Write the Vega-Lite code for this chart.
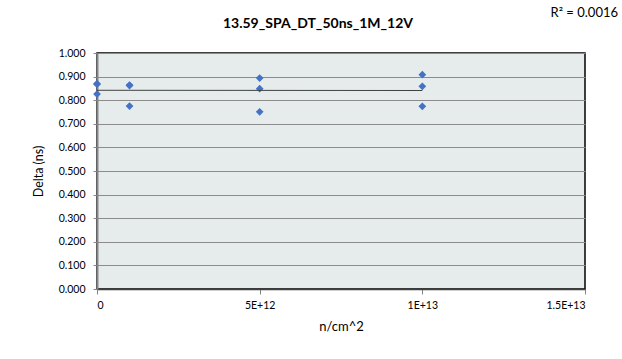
{
  "$schema": "https://vega.github.io/schema/vega-lite/v6.json",
  "width": 488,
  "height": 236,
  "autosize": {"type": "none"},
  "padding": {"left": 97, "top": 53, "right": 37, "bottom": 70},
  "background": "white",
  "config": {
    "view": {"fill": "#E6ECEC", "stroke": "#000000", "strokeWidth": 1.5},
    "font": "Lato"
  },
  "encoding": {
    "x": {
      "field": "fluence", "type": "quantitative",
      "scale": {"domain": [0, 1.5e13], "nice": false, "zero": true},
      "axis": {
        "values": [0, 5e12, 1e13, 1.5e13],
        "labelExpr": "datum.value == 0 ? '0' : datum.value == 5e12 ? '5E+12' : datum.value == 1e13 ? '1E+13' : '1.5E+13'",
        "title": "n/cm^2",
        "titleFont": "Lato", "titleFontSize": 13, "titleFontWeight": "normal", "titleColor": "#000000",
        "titlePadding": 10,
        "labelFont": "Lato", "labelFontSize": 10.5, "labelColor": "#000000", "labelPadding": 6,
        "labelOverlap": false,
        "grid": false,
        "domainColor": "#404040", "domainWidth": 1.5,
        "tickColor": "#868686", "tickSize": 5
      }
    },
    "y": {
      "field": "delta", "type": "quantitative",
      "scale": {"domain": [0, 1], "nice": false},
      "axis": {
        "values": [0, 0.1, 0.2, 0.3, 0.4, 0.5, 0.6, 0.7, 0.8, 0.9, 1.0],
        "labelOverlap": false,
        "format": ".3f",
        "title": "Delta (ns)",
        "titleFont": "Lato", "titleFontSize": 12.5, "titleFontWeight": "normal", "titleColor": "#000000",
        "titlePadding": 13,
        "labelFont": "Lato", "labelFontSize": 10.5, "labelColor": "#000000", "labelPadding": 8,
        "grid": true, "gridColor": "#8C8C8C", "gridWidth": 1,
        "domainColor": "#868686", "domainWidth": 2,
        "tickColor": "#868686", "tickSize": 4
      }
    }
  },
  "layer": [
    {
      "data": {"values": [
        {"fluence": 0, "delta": 0.870},
        {"fluence": 0, "delta": 0.826},
        {"fluence": 0, "delta": 0.868},
        {"fluence": 1e12, "delta": 0.864},
        {"fluence": 1e12, "delta": 0.862},
        {"fluence": 1e12, "delta": 0.775},
        {"fluence": 5e12, "delta": 0.894},
        {"fluence": 5e12, "delta": 0.849},
        {"fluence": 5e12, "delta": 0.751},
        {"fluence": 1e13, "delta": 0.908},
        {"fluence": 1e13, "delta": 0.859},
        {"fluence": 1e13, "delta": 0.774}
      ]},
      "layer": [
        {
          "mark": {"type": "point", "shape": "diamond", "filled": true, "color": "#4472C4", "size": 60, "opacity": 1}
        },
        {
          "transform": [{"regression": "delta", "on": "fluence", "extent": [0, 1e13]}],
          "mark": {"type": "line", "color": "#404040", "strokeWidth": 1}
        }
      ]
    },
    {
      "data": {"values": [
        {"label": "13.59_SPA_DT_50ns_1M_12V", "fluence": 7.5e12, "delta": 1, "kind": "title"},
        {"label": "R² = 0.0016", "fluence": 1.5e13, "delta": 1, "kind": "r2"}
      ]},
      "layer": [
        {
          "transform": [{"filter": "datum.kind == 'title'"}],
          "mark": {"type": "text", "font": "Lato", "fontSize": 14, "fontWeight": "bold", "color": "#000000", "align": "center", "baseline": "alphabetic", "dy": -25, "dx": -23},
          "encoding": {"text": {"field": "label"}}
        },
        {
          "transform": [{"filter": "datum.kind == 'r2'"}],
          "mark": {"type": "text", "font": "Lato", "fontSize": 13, "color": "#000000", "align": "right", "baseline": "alphabetic", "dy": -36, "dx": 33},
          "encoding": {"text": {"field": "label"}}
        }
      ]
    }
  ]
}
